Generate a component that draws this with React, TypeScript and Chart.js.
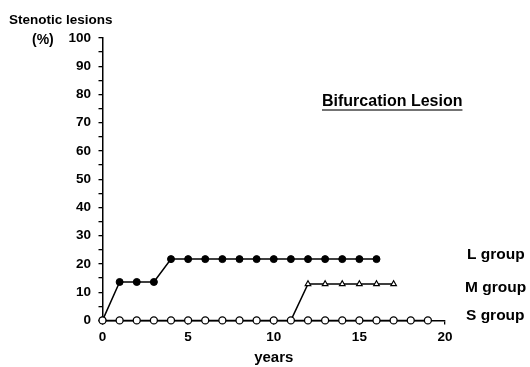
import React, { useEffect, useRef } from "react";
import { Chart, registerables } from "chart.js";

Chart.register(...registerables);

const years = [0, 1, 2, 3, 4, 5, 6, 7, 8, 9, 10, 11, 12, 13, 14, 15, 16, 17, 18, 19];
const lGroup = [0, 13.6, 13.6, 13.6, 21.7, 21.7, 21.7, 21.7, 21.7, 21.7, 21.7, 21.7, 21.7, 21.7, 21.7, 21.7, 21.7];
const mYears = [11, 12, 13, 14, 15, 16, 17];
const mGroup = [0, 12.9, 12.9, 12.9, 12.9, 12.9, 12.9];
const sGroup = [0, 0, 0, 0, 0, 0, 0, 0, 0, 0, 0, 0, 0, 0, 0, 0, 0, 0, 0, 0];
const groupLabels = ["L group", "M group", "S group"];
const FONT = "'Liberation Sans', Arial, Helvetica, sans-serif";

export default function App() {
  const ref = useRef<HTMLCanvasElement | null>(null);
  useEffect(() => {
    if (!ref.current) return;
    const textPlugin = {
      id: "texts",
      afterDraw(chart: any) {
        const ctx = chart.ctx;
        const ca = chart.chartArea;
        const xs = chart.scales.x;
        ctx.save();
        ctx.fillStyle = "#000";
        ctx.textBaseline = "middle";
        ctx.textAlign = "left";
        ctx.font = `bold 13.5px ${FONT}`;
        ctx.fillText("Stenotic lesions", 9, 20);
        ctx.font = `bold 14px ${FONT}`;
        ctx.fillText("(%)", 32, 40);
        ctx.font = `bold 15px ${FONT}`;
        ctx.textAlign = "center";
        ctx.fillText("years", (ca.left + ca.right) / 2, 358);
        ctx.textAlign = "left";
        ctx.font = `bold 16px ${FONT}`;
        ctx.fillText("Bifurcation Lesion", 322, 102);
        const w = ctx.measureText("Bifurcation Lesion").width;
        ctx.strokeStyle = "#444";
        ctx.lineWidth = 1.5;
        ctx.beginPath();
        ctx.moveTo(322, 110);
        ctx.lineTo(322 + w, 110);
        ctx.stroke();
        ctx.font = `bold 15.5px ${FONT}`;
        ctx.fillText(groupLabels[0], 467, 255);
        ctx.fillText(groupLabels[1], 465, 288);
        ctx.fillText(groupLabels[2], 466, 316);
        ctx.restore();
      },
    };
    const chart = new Chart(ref.current, {
      type: "line",
      data: {
        datasets: [
          {
            label: groupLabels[2],
            data: years.map((x, i) => ({ x, y: sGroup[i] })),
            borderColor: "#000",
            borderWidth: 1.5,
            pointRadius: 3.5,
            pointBackgroundColor: "#fff",
            pointBorderColor: "#000",
            pointBorderWidth: 1.3,
            pointStyle: "circle",
            clip: false,
          },
          {
            label: groupLabels[1],
            data: mYears.map((x, i) => ({ x, y: mGroup[i] })),
            borderColor: "#000",
            borderWidth: 1.5,
            pointRadius: mYears.map((_, i) => (i === 0 ? 0 : 3.2)),
            pointBackgroundColor: "#fff",
            pointBorderColor: "#000",
            pointBorderWidth: 1.2,
            pointStyle: "triangle",
            clip: false,
          },
          {
            label: groupLabels[0],
            data: lGroup.map((y, i) => ({ x: years[i], y })),
            borderColor: "#000",
            borderWidth: 1.5,
            pointRadius: 3.5,
            pointBackgroundColor: "#000",
            pointBorderColor: "#000",
            pointBorderWidth: 1,
            pointStyle: "circle",
            clip: false,
          },
        ],
      },
      options: {
        animation: false,
        responsive: false,
        maintainAspectRatio: false,
        layout: { padding: { left: 0, top: 38, right: 85, bottom: 0 } },
        plugins: { legend: { display: false }, tooltip: { enabled: false } },
        scales: {
          x: {
            type: "linear",
            min: 0,
            max: 20,
            afterFit: (s: any) => {
              s.height = 46.6;
            },
            ticks: {
              stepSize: 5,
              color: "#000",
              padding: 5,
              font: { family: FONT, size: 13.5, weight: "bold" },
            },
            grid: { drawOnChartArea: false, drawTicks: true, tickLength: 4, color: "#000", lineWidth: 1.3 },
            border: { display: true, color: "#000", width: 1.5 },
          },
          y: {
            min: 0,
            max: 100,
            afterFit: (s: any) => {
              s.width = 102.5;
            },
            ticks: {
              stepSize: 5,
              color: "#000",
              padding: 7.5,
              autoSkip: false,
              font: { family: FONT, size: 13.5, weight: "bold" },
              callback: (v: any) => (Number(v) % 10 === 0 ? String(v) : ""),
            },
            grid: { drawOnChartArea: false, drawTicks: true, tickLength: 4, color: "#000", lineWidth: 1.3 },
            border: { display: true, color: "#000", width: 1.5 },
          },
        },
      },
      plugins: [textPlugin],
    });
    return () => chart.destroy();
  }, []);
  return (
    <div style={{ position: "fixed", left: 0, top: 0, width: 530, height: 367, background: "#fff" }}>
      <canvas ref={ref} width={530} height={367} style={{ width: 530, height: 367, display: "block" }} />
    </div>
  );
}
